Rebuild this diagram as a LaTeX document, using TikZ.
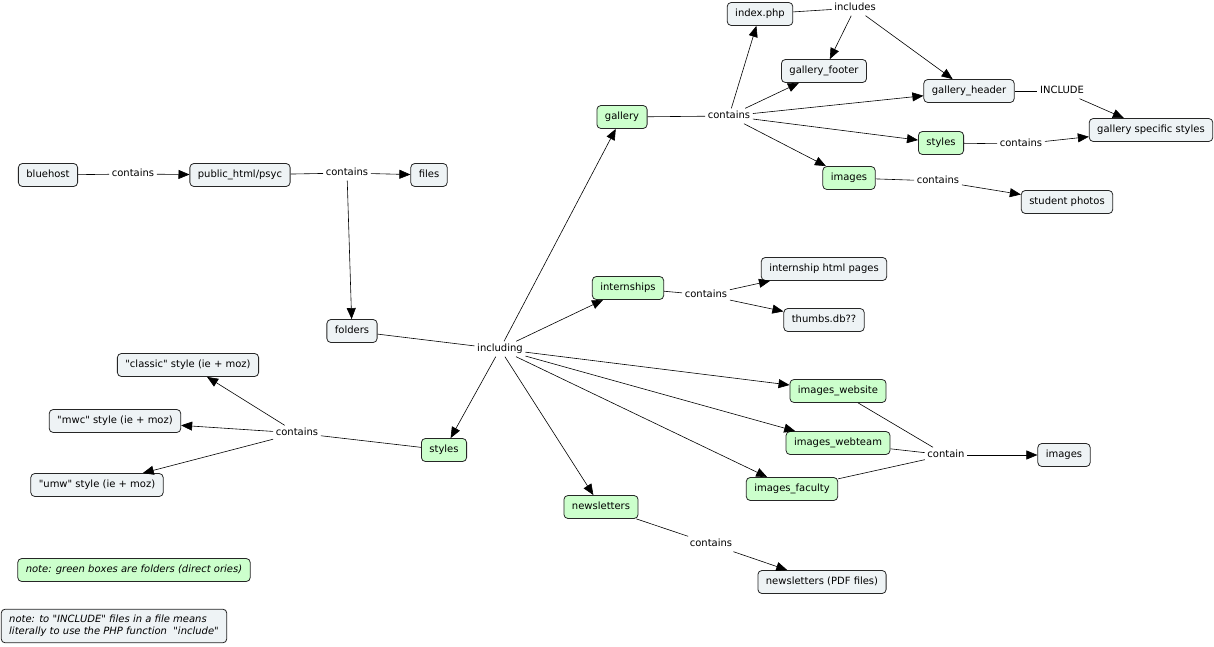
\documentclass[tikz,border=0pt]{standalone}
\usepackage{fontspec}
\setmainfont{DejaVu Sans}[Ligatures=TeXOff]
\usetikzlibrary{arrows.meta}
\definecolor{gbox}{HTML}{EEF3F5}
\definecolor{grn}{HTML}{CCFFCC}
\begin{document}
\begin{tikzpicture}[x=1pt,y=-1pt,
 box/.style={draw=black!85,line width=0.8pt,rounded corners=4pt,fill=gbox,font=\fontsize{10}{12}\selectfont,inner xsep=8pt,inner ysep=6.5pt,text height=7.5pt,text depth=2.5pt},
 fold/.style={box,fill=grn},
 lp/.style={font=\fontsize{10}{12}\selectfont,inner sep=2.5pt,text height=7.5pt,text depth=2.5pt},
 ln/.style={draw,line width=0.6pt},
 ar/.style={ln,-{Triangle[length=11pt,width=9pt]}}]
\useasboundingbox (0,0) rectangle (1214,647);
% concepts
\node[box] (bluehost) at (48,175) {bluehost};
\node[box] (public) at (240,175) {public\_html/psyc};
\node[box] (files) at (429,175) {files};
\node[box] (folders) at (352,331) {folders};
\node[fold] (gallery) at (622,117) {gallery};
\node[box] (index) at (760,14) {index.php};
\node[box] (footer) at (824,71) {gallery\_footer};
\node[box] (header) at (969,91) {gallery\_header};
\node[box] (gss) at (1151,130) {gallery specific styles};
\node[fold] (gstyles) at (941,143) {styles};
\node[fold] (gimages) at (849,178) {images};
\node[box] (photos) at (1067,202) {student photos};
\node[fold] (intern) at (628,288) {internships};
\node[box] (ihtml) at (824,269) {internship html pages};
\node[box] (thumbs) at (824,320) {thumbs.db??};
\node[fold] (iweb) at (838,391) {images\_website};
\node[fold] (iteam) at (838,443) {images\_webteam};
\node[fold] (ifac) at (792,489) {images\_faculty};
\node[box] (images) at (1064,455) {images};
\node[fold] (news) at (601,507) {newsletters};
\node[box] (pdf) at (822,582) {newsletters (PDF files)};
\node[fold] (lstyles) at (444,450) {styles};
\node[box] (classic) at (188,365) {"classic" style (ie + moz)};
\node[box] (mwc) at (115,421) {"mwc" style (ie + moz)};
\node[box] (umw) at (97,485) {"umw" style (ie + moz)};
\node[fold,font=\fontsize{10}{12}\selectfont\itshape] (note1) at (134,570) {note: green boxes are folders (direct ories)};
\node[box,font=\fontsize{10}{12}\selectfont\itshape,align=left,text height=,text depth=,inner ysep=6pt] (note2) at (114,626) {note: to "INCLUDE" files in a file means\\literally to use the PHP function \ "include"};
% linking phrases
\node[lp] (c1) at (133,174) {contains};
\node[lp] (c2) at (347,173) {contains};
\node[lp] (incl) at (500,349) {including};
\node[lp] (c3) at (729,116) {contains};
\node[lp] (incs) at (855,8) {includes};
\node[lp] (INC) at (1062,91) {INCLUDE};
\node[lp] (c4) at (1021,144) {contains};
\node[lp] (c5) at (938,181) {contains};
\node[lp] (c6) at (706,295) {contains};
\node[lp] (cont) at (946,455) {contain};
\node[lp] (c7) at (711,544) {contains};
\node[lp] (c8) at (297,433) {contains};
% connectors
\draw[ln] (bluehost) -- (c1); \draw[ar] (c1) -- (public);
\draw[ln] (public) -- (c2); \draw[ar] (c2) -- (files); \draw[ar] (c2) -- (folders);
\draw[ln] (folders) -- (incl);
\foreach \t in {gallery,intern,iweb,iteam,ifac,news,lstyles} \draw[ar] (incl) -- (\t);
\draw[ln] (gallery) -- (c3);
\foreach \t in {index,footer,header,gstyles,gimages} \draw[ar] (c3) -- (\t);
\draw[ln] (index) -- (incs); \draw[ar] (incs) -- (footer); \draw[ar] (incs) -- (header);
\draw[ln] (header) -- (INC); \draw[ar] (INC) -- (gss);
\draw[ln] (gstyles) -- (c4); \draw[ar] (c4) -- (gss);
\draw[ln] (gimages) -- (c5); \draw[ar] (c5) -- (photos);
\draw[ln] (intern) -- (c6); \draw[ar] (c6) -- (ihtml); \draw[ar] (c6) -- (thumbs);
\draw[ln] (iweb) -- (cont); \draw[ln] (iteam) -- (cont); \draw[ln] (ifac) -- (cont); \draw[ar] (cont) -- (images);
\draw[ln] (news) -- (c7); \draw[ar] (c7) -- (pdf);
\draw[ln] (lstyles) -- (c8);
\foreach \t in {classic,mwc,umw} \draw[ar] (c8) -- (\t);
\end{tikzpicture}
\end{document}
